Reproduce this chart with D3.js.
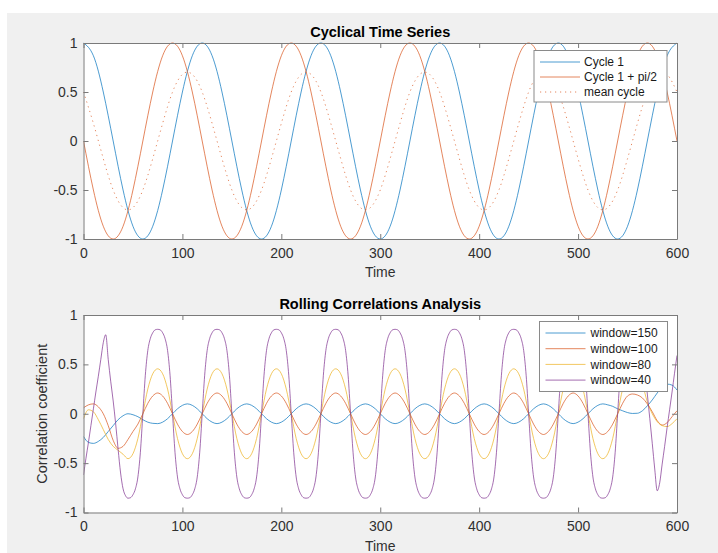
<!DOCTYPE html>
<html>
<head>
<meta charset="utf-8">
<script src="https://cdn.jsdelivr.net/npm/d3@7"></script>
<style>
  body { margin: 0; background: #fff; }
  svg { display: block; font-family: "Liberation Sans", Arial, Helvetica, sans-serif; }
</style>
</head>
<body>
<svg id="figure"></svg>
<script>
// ---- Data ----
// Top panel: sampled every 10 time units (0..600)
const cycle1 = [
  1, 0.87, 0.5, 0, -0.5, -0.87, -1, -0.87, -0.5, 0, 0.5, 0.87,
  1, 0.87, 0.5, 0, -0.5, -0.87, -1, -0.87, -0.5, 0, 0.5, 0.87,
  1, 0.87, 0.5, 0, -0.5, -0.87, -1, -0.87, -0.5, 0, 0.5, 0.87,
  1, 0.87, 0.5, 0, -0.5, -0.87, -1, -0.87, -0.5, 0, 0.5, 0.87,
  1, 0.87, 0.5, 0, -0.5, -0.87, -1, -0.87, -0.5, 0, 0.5, 0.87,
  1
];
const cycle2 = [
  0, -0.5, -0.87, -1, -0.87, -0.5, 0, 0.5, 0.87, 1, 0.87, 0.5,
  0, -0.5, -0.87, -1, -0.87, -0.5, 0, 0.5, 0.87, 1, 0.87, 0.5,
  0, -0.5, -0.87, -1, -0.87, -0.5, 0, 0.5, 0.87, 1, 0.87, 0.5,
  0, -0.5, -0.87, -1, -0.87, -0.5, 0, 0.5, 0.87, 1, 0.87, 0.5,
  0, -0.5, -0.87, -1, -0.87, -0.5, 0, 0.5, 0.87, 1, 0.87, 0.5,
  0
];
const meanCycle = [
  0.5, 0.18, -0.18, -0.5, -0.68, -0.68, -0.5, -0.18, 0.18, 0.5, 0.68, 0.68,
  0.5, 0.18, -0.18, -0.5, -0.68, -0.68, -0.5, -0.18, 0.18, 0.5, 0.68, 0.68,
  0.5, 0.18, -0.18, -0.5, -0.68, -0.68, -0.5, -0.18, 0.18, 0.5, 0.68, 0.68,
  0.5, 0.18, -0.18, -0.5, -0.68, -0.68, -0.5, -0.18, 0.18, 0.5, 0.68, 0.68,
  0.5, 0.18, -0.18, -0.5, -0.68, -0.68, -0.5, -0.18, 0.18, 0.5, 0.68, 0.68,
  0.5
];

// Bottom panel: windows 150/100/80 sampled every 5 time units (0..600)
const corr150 = [
  -0.23, -0.29, -0.30, -0.28, -0.24, -0.18, -0.12, -0.06, -0.02, 0.0, -0.01, -0.03, -0.06, -0.085, -0.097, -0.1,
  -0.085, -0.05, 0, 0.05, 0.085, 0.1, 0.085, 0.05,
  0, -0.05, -0.085, -0.1, -0.085, -0.05, 0, 0.05, 0.085, 0.1, 0.085, 0.05,
  0, -0.05, -0.085, -0.1, -0.085, -0.05, 0, 0.05, 0.085, 0.1, 0.085, 0.05,
  0, -0.05, -0.085, -0.1, -0.085, -0.05, 0, 0.05, 0.085, 0.1, 0.085, 0.05,
  0, -0.05, -0.085, -0.1, -0.085, -0.05, 0, 0.05, 0.085, 0.1, 0.085, 0.05,
  0, -0.05, -0.085, -0.1, -0.085, -0.05, 0, 0.05, 0.085, 0.1, 0.085, 0.05,
  0, -0.05, -0.085, -0.1, -0.085, -0.05, 0, 0.05, 0.085, 0.1, 0.085, 0.05,
  0, -0.05, -0.085, -0.1, -0.085, -0.05, 0, 0.05, 0.085, 0.1,
  0.09, 0.075, 0.05, 0.03, 0.012, 0.003, 0.005, 0.03, 0.08, 0.14, 0.21, 0.27, 0.30, 0.29, 0.24
];
const corr100 = [
  0.06, 0.09, 0.10, 0.07, 0.0, -0.12, -0.27, -0.35, -0.33, -0.26, -0.18, -0.105, 0, 0.105, 0.18, 0.21,
  0.18, 0.105, 0, -0.105, -0.18, -0.21, -0.18, -0.105,
  0, 0.105, 0.18, 0.21, 0.18, 0.105, 0, -0.105, -0.18, -0.21, -0.18, -0.105,
  0, 0.105, 0.18, 0.21, 0.18, 0.105, 0, -0.105, -0.18, -0.21, -0.18, -0.105,
  0, 0.105, 0.18, 0.21, 0.18, 0.105, 0, -0.105, -0.18, -0.21, -0.18, -0.105,
  0, 0.105, 0.18, 0.21, 0.18, 0.105, 0, -0.105, -0.18, -0.21, -0.18, -0.105,
  0, 0.105, 0.18, 0.21, 0.18, 0.105, 0, -0.105, -0.18, -0.21, -0.18, -0.105,
  0, 0.105, 0.18, 0.21, 0.18, 0.105, 0, -0.105, -0.18, -0.21, -0.18, -0.105,
  0, 0.105, 0.18, 0.21, 0.18, 0.105, 0, -0.105, -0.18, -0.21,
  -0.18, -0.105, 0, 0.105, 0.18, 0.2, 0.19, 0.16, 0.1, 0.02, -0.07, -0.115, -0.09, -0.03, 0.03
];
const corr80 = [
  -0.05, 0.04, 0.02, -0.06, -0.16, -0.26, -0.33, -0.37, -0.41, -0.455, -0.405, -0.25, 0, 0.25, 0.405, 0.455,
  0.405, 0.25, 0, -0.25, -0.405, -0.455, -0.405, -0.25,
  0, 0.25, 0.405, 0.455, 0.405, 0.25, 0, -0.25, -0.405, -0.455, -0.405, -0.25,
  0, 0.25, 0.405, 0.455, 0.405, 0.25, 0, -0.25, -0.405, -0.455, -0.405, -0.25,
  0, 0.25, 0.405, 0.455, 0.405, 0.25, 0, -0.25, -0.405, -0.455, -0.405, -0.25,
  0, 0.25, 0.405, 0.455, 0.405, 0.25, 0, -0.25, -0.405, -0.455, -0.405, -0.25,
  0, 0.25, 0.405, 0.455, 0.405, 0.25, 0, -0.25, -0.405, -0.455, -0.405, -0.25,
  0, 0.25, 0.405, 0.455, 0.405, 0.25, 0, -0.25, -0.405, -0.455, -0.405, -0.25,
  0, 0.25, 0.405, 0.455, 0.405, 0.25, 0, -0.25, -0.405, -0.455,
  -0.405, -0.25, 0, 0.25, 0.405, 0.455, 0.405, 0.3, 0.12, 0.0, -0.08, -0.12, -0.13, -0.1, -0.05
];
// window=40 is sharper, sampled every 2.5 time units (0..600)
const corr40 = [
  -0.62, -0.45, -0.29, -0.12, 0.05, 0.22, 0.38, 0.55, 0.72, 0.80, 0.55, 0.33, 0.13, -0.1, -0.36, -0.6, -0.76, -0.83,
  -0.855, -0.85, -0.82, -0.76, -0.64, -0.39,
  0, 0.39, 0.64, 0.76, 0.82, 0.85, 0.855, 0.85, 0.82, 0.76, 0.64, 0.39, 0, -0.39, -0.64, -0.76, -0.82, -0.85, -0.855, -0.85, -0.82, -0.76, -0.64, -0.39,
  0, 0.39, 0.64, 0.76, 0.82, 0.85, 0.855, 0.85, 0.82, 0.76, 0.64, 0.39, 0, -0.39, -0.64, -0.76, -0.82, -0.85, -0.855, -0.85, -0.82, -0.76, -0.64, -0.39,
  0, 0.39, 0.64, 0.76, 0.82, 0.85, 0.855, 0.85, 0.82, 0.76, 0.64, 0.39, 0, -0.39, -0.64, -0.76, -0.82, -0.85, -0.855, -0.85, -0.82, -0.76, -0.64, -0.39,
  0, 0.39, 0.64, 0.76, 0.82, 0.85, 0.855, 0.85, 0.82, 0.76, 0.64, 0.39, 0, -0.39, -0.64, -0.76, -0.82, -0.85, -0.855, -0.85, -0.82, -0.76, -0.64, -0.39,
  0, 0.39, 0.64, 0.76, 0.82, 0.85, 0.855, 0.85, 0.82, 0.76, 0.64, 0.39, 0, -0.39, -0.64, -0.76, -0.82, -0.85, -0.855, -0.85, -0.82, -0.76, -0.64, -0.39,
  0, 0.39, 0.64, 0.76, 0.82, 0.85, 0.855, 0.85, 0.82, 0.76, 0.64, 0.39, 0, -0.39, -0.64, -0.76, -0.82, -0.85, -0.855, -0.85, -0.82, -0.76, -0.64, -0.39,
  0, 0.39, 0.64, 0.76, 0.82, 0.85, 0.855, 0.85, 0.82, 0.76, 0.64, 0.39, 0, -0.39, -0.64, -0.76, -0.82, -0.85, -0.855, -0.85, -0.82, -0.76, -0.64, -0.39,
  0, 0.39, 0.64, 0.76, 0.82, 0.85, 0.855, 0.85, 0.82, 0.76, 0.64, 0.39, 0, -0.39, -0.64, -0.76, -0.82, -0.85, -0.855, -0.85, -0.82, -0.76, -0.64, -0.39,
  0, 0.39, 0.64, 0.76, 0.82, 0.85, 0.855,
  0.84, 0.80, 0.72, 0.6, 0.42, 0.2, -0.05, -0.3, -0.56, -0.78, -0.7, -0.51, -0.33, -0.14, 0.04, 0.22, 0.41, 0.59
];

// Axis ticks
const xTicks = [0, 100, 200, 300, 400, 500, 600];
const yTicks = [-1, -0.5, 0, 0.5, 1];

// Series definitions (label, values, sample step)
const topSeries = [
  { name: "Cycle 1", values: cycle1, step: 10, color: "#0072BD", dash: null },
  { name: "Cycle 1 + pi/2", values: cycle2, step: 10, color: "#D95319", dash: null },
  { name: "mean cycle", values: meanCycle, step: 10, color: "#D95319", dash: "1.2,3.8" }
];
const bottomSeries = [
  { name: "window=150", values: corr150, step: 5, color: "#0072BD", dash: null },
  { name: "window=100", values: corr100, step: 5, color: "#D95319", dash: null },
  { name: "window=80", values: corr80, step: 5, color: "#EDB120", dash: null },
  { name: "window=40", values: corr40, step: 2.5, color: "#7E2F8E", dash: null }
];

// ---- Figure ----
const W = 718, H = 553;
const svg = d3.select("#figure").attr("width", W).attr("height", H);

// grey figure background (the window is slightly cropped at top/left)
svg.append("rect")
  .attr("x", 7).attr("y", 13)
  .attr("width", W - 7).attr("height", H - 13)
  .attr("fill", "#f0f0f0");

const plotLeft = 83.5, plotRight = 677;

function drawPanel(opts) {
  const x = d3.scaleLinear().domain([0, 600]).range([plotLeft, plotRight]);
  const y = d3.scaleLinear().domain([-1, 1]).range([opts.bottom, opts.top]);
  const g = svg.append("g");

  // white plot area
  g.append("rect")
    .attr("x", plotLeft).attr("y", opts.top)
    .attr("width", plotRight - plotLeft).attr("height", opts.bottom - opts.top)
    .attr("fill", "#fff");

  // clip so curves stay inside the box
  const clipId = "clip-" + opts.id;
  svg.append("clipPath").attr("id", clipId)
    .append("rect")
    .attr("x", plotLeft).attr("y", opts.top - 1)
    .attr("width", plotRight - plotLeft).attr("height", opts.bottom - opts.top + 2);

  const line = d3.line()
    .x((d) => x(d.t))
    .y((d) => y(d.v))
    .curve(opts.curve);

  g.append("g").attr("clip-path", `url(#${clipId})`)
    .selectAll("path")
    .data(opts.series)
    .enter()
    .append("path")
    .attr("d", (s) => line(s.values.map((v, i) => ({ t: i * s.step, v: v }))))
    .attr("fill", "none")
    .attr("stroke", (s) => s.color)
    .attr("stroke-width", 1)
    .attr("stroke-opacity", 0.7)
    .attr("stroke-dasharray", (s) => s.dash);

  // axes: ticks point inward on all four sides
  const axisColor = "#7a7a7a";
  const fmt = (d) => String(d);

  const xb = g.append("g")
    .attr("transform", `translate(0, ${opts.bottom})`)
    .call(d3.axisBottom(x).tickValues(xTicks).tickSizeInner(-5).tickSizeOuter(0).tickPadding(9).tickFormat(fmt));
  const xt = g.append("g")
    .attr("transform", `translate(0, ${opts.top})`)
    .call(d3.axisTop(x).tickValues(xTicks).tickSizeInner(-5).tickSizeOuter(0).tickFormat(""));
  const yl = g.append("g")
    .attr("transform", `translate(${plotLeft}, 0)`)
    .call(d3.axisLeft(y).tickValues(yTicks).tickSizeInner(-5).tickSizeOuter(0).tickPadding(6).tickFormat(fmt));
  const yr = g.append("g")
    .attr("transform", `translate(${plotRight}, 0)`)
    .call(d3.axisRight(y).tickValues(yTicks).tickSizeInner(-5).tickSizeOuter(0).tickFormat(""));

  [xb, xt, yl, yr].forEach((a) => {
    a.select(".domain").attr("stroke", axisColor);
    a.selectAll(".tick line").attr("stroke", axisColor);
    a.selectAll(".tick text")
      .attr("fill", "#303030")
      .style("font-size", "14px")
      .style("font-family", "'Liberation Sans', Arial, sans-serif");
  });

  // title
  g.append("text")
    .attr("x", (plotLeft + plotRight) / 2)
    .attr("y", opts.top - 6)
    .attr("text-anchor", "middle")
    .attr("font-size", "14.5px")
    .attr("font-weight", "bold")
    .attr("fill", "#000")
    .text(opts.title);

  // x label
  g.append("text")
    .attr("x", (plotLeft + plotRight) / 2)
    .attr("y", opts.bottom + 38)
    .attr("text-anchor", "middle")
    .attr("font-size", "14px")
    .attr("fill", "#303030")
    .text("Time");

  if (opts.yLabel) {
    g.append("text")
      .attr("transform", `translate(47, ${(opts.top + opts.bottom) / 2}) rotate(-90)`)
      .attr("text-anchor", "middle")
      .attr("font-size", "14.5px")
      .attr("fill", "#303030")
      .text(opts.yLabel);
  }

  // legend box
  const lg = g.append("g");
  lg.append("rect")
    .attr("x", opts.legend.x).attr("y", opts.legend.y)
    .attr("width", opts.legend.w).attr("height", opts.legend.h)
    .attr("fill", "#fff")
    .attr("stroke", "#8a8a8a")
    .attr("stroke-width", 1);

  const rows = lg.selectAll(".row")
    .data(opts.series)
    .enter()
    .append("g")
    .attr("class", "row")
    .attr("transform", (d, i) => `translate(${opts.legend.x}, ${opts.legend.y + opts.legend.first + i * opts.legend.gap})`);

  rows.append("line")
    .attr("x1", opts.legend.lineX0).attr("x2", opts.legend.lineX1)
    .attr("y1", 0).attr("y2", 0)
    .attr("stroke", (s) => s.color)
    .attr("stroke-width", 1)
    .attr("stroke-opacity", 0.7)
    .attr("stroke-dasharray", (s) => s.dash);

  rows.append("text")
    .attr("x", opts.legend.textX)
    .attr("y", 0)
    .attr("dy", "0.35em")
    .attr("font-size", "12px")
    .attr("fill", "#1a1a1a")
    .text((s) => s.name);
}

drawPanel({
  id: "top",
  top: 43, bottom: 239,
  title: "Cyclical Time Series",
  series: topSeries,
  curve: d3.curveNatural,
  legend: { x: 534, y: 50.5, w: 133, h: 51.5, first: 11.5, gap: 15, lineX0: 6, lineX1: 46, textX: 50 }
});

drawPanel({
  id: "bottom",
  top: 315, bottom: 512.5,
  title: "Rolling Correlations Analysis",
  yLabel: "Correlation coefficient",
  series: bottomSeries,
  curve: d3.curveMonotoneX,
  legend: { x: 539.5, y: 321.5, w: 128, h: 70, first: 11.5, gap: 15.7, lineX0: 6, lineX1: 46, textX: 51 }
});
</script>
</body>
</html>
